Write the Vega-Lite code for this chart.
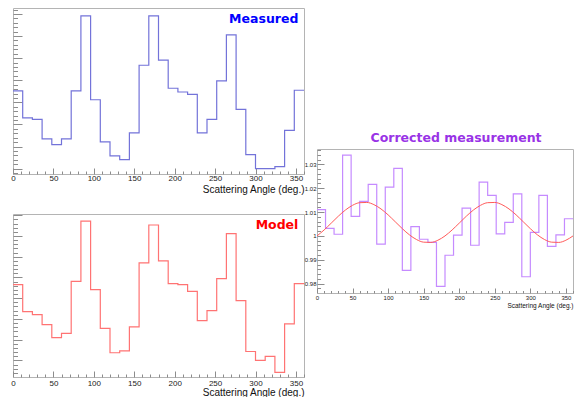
{
  "$schema": "https://vega.github.io/schema/vega-lite/v6.json",
  "padding": {"left": 10, "top": 7, "right": 0, "bottom": 0},
  "background": "white",
  "datasets": {
    "measured": [
      {"angle": 0, "counts": 352}, {"angle": 12, "counts": 230}, {"angle": 24, "counts": 223}, {"angle": 36, "counts": 135},
      {"angle": 48, "counts": 109}, {"angle": 60, "counts": 135}, {"angle": 72, "counts": 352}, {"angle": 84, "counts": 691},
      {"angle": 96, "counts": 312}, {"angle": 108, "counts": 121}, {"angle": 120, "counts": 58}, {"angle": 132, "counts": 41},
      {"angle": 144, "counts": 162}, {"angle": 156, "counts": 468}, {"angle": 168, "counts": 691}, {"angle": 180, "counts": 491},
      {"angle": 192, "counts": 364}, {"angle": 204, "counts": 347}, {"angle": 216, "counts": 336}, {"angle": 228, "counts": 162},
      {"angle": 240, "counts": 223}, {"angle": 252, "counts": 397}, {"angle": 264, "counts": 605}, {"angle": 276, "counts": 268},
      {"angle": 288, "counts": 64}, {"angle": 300, "counts": 0}, {"angle": 312, "counts": 0}, {"angle": 324, "counts": 9},
      {"angle": 336, "counts": 173}, {"angle": 348, "counts": 355}, {"angle": 360, "counts": 355}
    ],
    "model": [
      {"angle": 0, "counts": 465}, {"angle": 12, "counts": 335}, {"angle": 24, "counts": 321}, {"angle": 36, "counts": 273},
      {"angle": 48, "counts": 210}, {"angle": 60, "counts": 230}, {"angle": 72, "counts": 481}, {"angle": 84, "counts": 772},
      {"angle": 96, "counts": 441}, {"angle": 108, "counts": 254}, {"angle": 120, "counts": 137}, {"angle": 132, "counts": 146},
      {"angle": 144, "counts": 262}, {"angle": 156, "counts": 570}, {"angle": 168, "counts": 753}, {"angle": 180, "counts": 580},
      {"angle": 192, "counts": 470}, {"angle": 204, "counts": 465}, {"angle": 216, "counts": 433}, {"angle": 228, "counts": 292},
      {"angle": 240, "counts": 340}, {"angle": 252, "counts": 494}, {"angle": 264, "counts": 711}, {"angle": 276, "counts": 388},
      {"angle": 288, "counts": 143}, {"angle": 300, "counts": 100}, {"angle": 312, "counts": 119}, {"angle": 324, "counts": 42},
      {"angle": 336, "counts": 276}, {"angle": 348, "counts": 470}, {"angle": 360, "counts": 470}
    ],
    "corrected": [
      {"angle": 0, "ratio": 1.011}, {"angle": 12, "ratio": 1.0032}, {"angle": 24, "ratio": 1.0007}, {"angle": 36, "ratio": 1.0338},
      {"angle": 48, "ratio": 1.0082}, {"angle": 60, "ratio": 1.0145}, {"angle": 72, "ratio": 1.0216}, {"angle": 84, "ratio": 0.9966},
      {"angle": 96, "ratio": 1.0204}, {"angle": 108, "ratio": 1.0283}, {"angle": 120, "ratio": 0.9856}, {"angle": 132, "ratio": 1.0039},
      {"angle": 144, "ratio": 0.9986}, {"angle": 156, "ratio": 0.9973}, {"angle": 168, "ratio": 0.9789}, {"angle": 180, "ratio": 0.9919},
      {"angle": 192, "ratio": 1.0003}, {"angle": 204, "ratio": 1.0116}, {"angle": 216, "ratio": 0.9961}, {"angle": 228, "ratio": 1.0225},
      {"angle": 240, "ratio": 1.017}, {"angle": 252, "ratio": 1.0009}, {"angle": 264, "ratio": 1.0057}, {"angle": 276, "ratio": 1.0176},
      {"angle": 288, "ratio": 0.9829}, {"angle": 300, "ratio": 1.0015}, {"angle": 312, "ratio": 1.017}, {"angle": 324, "ratio": 0.9956},
      {"angle": 336, "ratio": 1.0004}, {"angle": 348, "ratio": 1.0072}, {"angle": 360, "ratio": 1.0072}
    ],
    "fit": [
      {"angle": 0, "ratio": 1.0}, {"angle": 10, "ratio": 1.0025}, {"angle": 20, "ratio": 1.00536}, {"angle": 30, "ratio": 1.00826},
      {"angle": 40, "ratio": 1.01085}, {"angle": 50, "ratio": 1.01282}, {"angle": 60, "ratio": 1.01392}, {"angle": 70, "ratio": 1.01402},
      {"angle": 80, "ratio": 1.01311}, {"angle": 90, "ratio": 1.0113}, {"angle": 100, "ratio": 1.00882}, {"angle": 110, "ratio": 1.00594},
      {"angle": 120, "ratio": 1.00304}, {"angle": 130, "ratio": 1.00045}, {"angle": 140, "ratio": 0.99848}, {"angle": 150, "ratio": 0.99739},
      {"angle": 160, "ratio": 0.99728}, {"angle": 170, "ratio": 0.99819}, {"angle": 180, "ratio": 1.0}, {"angle": 190, "ratio": 1.0025},
      {"angle": 200, "ratio": 1.00536}, {"angle": 210, "ratio": 1.00826}, {"angle": 220, "ratio": 1.01085}, {"angle": 230, "ratio": 1.01282},
      {"angle": 240, "ratio": 1.01392}, {"angle": 250, "ratio": 1.01402}, {"angle": 260, "ratio": 1.01311}, {"angle": 270, "ratio": 1.0113},
      {"angle": 280, "ratio": 1.00882}, {"angle": 290, "ratio": 1.00594}, {"angle": 300, "ratio": 1.00304}, {"angle": 310, "ratio": 1.00045},
      {"angle": 320, "ratio": 0.99848}, {"angle": 330, "ratio": 0.99739}, {"angle": 340, "ratio": 0.99728}, {"angle": 350, "ratio": 0.99819},
      {"angle": 360, "ratio": 1.0}
    ]
  },
  "spacing": -4,
  "hconcat": [
    {
      "bounds": "flush",
      "spacing": 40,
      "vconcat": [
        {
          "width": 291,
          "height": 166,
          "title": {"text": "Measured", "anchor": "end", "offset": -17, "dx": -8, "color": "#0000ff", "font": "DejaVu Sans", "fontSize": 12.5, "fontWeight": "bold"},
          "data": {"name": "measured"},
          "mark": {"type": "line", "interpolate": "step-after", "color": "#7373d9", "strokeWidth": 1.2},
          "encoding": {
            "x": {
              "field": "angle", "type": "quantitative",
              "scale": {"domain": [0, 360], "nice": false, "zero": false},
              "axis": {
                "values": [0,10,20,30,40,50,60,70,80,90,100,110,120,130,140,150,160,170,180,190,200,210,220,230,240,250,260,270,280,290,300,310,320,330,340,350,360],
                "labelExpr": "datum.value % 50 === 0 && datum.value < 360 ? datum.label : ''",
                "tickSize": {"condition": {"test": "datum.value % 50 === 0", "value": -6}, "value": -3},
                "labelPadding": 6.5, "labelFontSize": 8, "labelFlush": false, "labelOverlap": false,
                "title": "Scattering Angle (deg.)", "titleAnchor": "end", "titleFontSize": 10, "titlePadding": -1
              }
            },
            "y": {
              "field": "counts", "type": "quantitative",
              "scale": {"domain": [-24, 727], "nice": false, "zero": false},
              "axis": {
                "values": [-20,0,20,40,60,80,100,120,140,160,180,200,220,240,260,280,300,320,340,360,380,400,420,440,460,480,500,520,540,560,580,600,620,640,660,680,700,720],
                "labels": false, "title": null,
                "tickSize": {"condition": {"test": "datum.value % 100 === 0", "value": -9}, "value": -4.5}
              }
            }
          }
        },
        {
          "width": 291,
          "height": 163,
          "title": {"text": "Model", "anchor": "end", "offset": -17, "dx": -8, "color": "#ff0000", "font": "DejaVu Sans", "fontSize": 12.5, "fontWeight": "bold"},
          "data": {"name": "model"},
          "mark": {"type": "line", "interpolate": "step-after", "color": "#ff7373", "strokeWidth": 1.2},
          "encoding": {
            "x": {
              "field": "angle", "type": "quantitative",
              "scale": {"domain": [0, 360], "nice": false, "zero": false},
              "axis": {
                "values": [0,10,20,30,40,50,60,70,80,90,100,110,120,130,140,150,160,170,180,190,200,210,220,230,240,250,260,270,280,290,300,310,320,330,340,350,360],
                "labelExpr": "datum.value % 50 === 0 && datum.value < 360 ? datum.label : ''",
                "tickSize": {"condition": {"test": "datum.value % 50 === 0", "value": -6}, "value": -3},
                "labelPadding": 8.5, "labelFontSize": 8, "labelFlush": false, "labelOverlap": false,
                "title": "Scattering Angle (deg.)", "titleAnchor": "end", "titleFontSize": 10, "titlePadding": -3
              }
            },
            "y": {
              "field": "counts", "type": "quantitative",
              "scale": {"domain": [20, 806], "nice": false, "zero": false},
              "axis": {
                "values": [40,60,80,100,120,140,160,180,200,220,240,260,280,300,320,340,360,380,400,420,440,460,480,500,520,540,560,580,600,620,640,660,680,700,720,740,760,780,800],
                "labels": false, "title": null,
                "tickSize": {"condition": {"test": "datum.value % 100 === 0", "value": -9}, "value": -4.5}
              }
            }
          }
        }
      ]
    },
    {
      "bounds": "flush",
      "spacing": 10,
      "vconcat": [
        {
          "width": 256,
          "height": 131,
          "view": {"stroke": null},
          "data": {"values": []},
          "mark": {"type": "point"},
          "encoding": {}
        },
        {
          "width": 256,
          "height": 144,
          "title": {"text": "Corrected measurement", "anchor": "middle", "offset": 2, "dx": 11, "color": "#9933e6", "font": "DejaVu Sans", "fontSize": 12.5, "fontWeight": "bold"},
          "encoding": {
            "x": {
              "field": "angle", "type": "quantitative",
              "scale": {"domain": [0, 360], "nice": false, "zero": false},
              "axis": {
                "values": [0,10,20,30,40,50,60,70,80,90,100,110,120,130,140,150,160,170,180,190,200,210,220,230,240,250,260,270,280,290,300,310,320,330,340,350,360],
                "labelExpr": "datum.value % 50 === 0 && datum.value < 360 ? datum.label : ''",
                "tickSize": {"condition": {"test": "datum.value % 50 === 0", "value": -5}, "value": -2.5},
                "labelPadding": 6, "labelFontSize": 6, "labelFlush": false, "labelOverlap": false,
                "title": "Scattering Angle (deg.)", "titleAnchor": "end", "titleFontSize": 6.5, "titlePadding": 0, "titleX": 256
              }
            },
            "y": {
              "field": "ratio", "type": "quantitative",
              "scale": {"domain": [0.9761, 1.0364], "nice": false, "zero": false},
              "axis": {
                "values": [0.976,0.978,0.98,0.982,0.984,0.986,0.988,0.99,0.992,0.994,0.996,0.998,1,1.002,1.004,1.006,1.008,1.01,1.012,1.014,1.016,1.018,1.02,1.022,1.024,1.026,1.028,1.03,1.032,1.034,1.036],
                "format": "~g",
                "labelExpr": "abs(datum.value*100 - round(datum.value*100)) < 0.01 ? datum.label : ''",
                "tickSize": {"condition": {"test": "abs(datum.value*100 - round(datum.value*100)) < 0.01", "value": -7}, "value": -3.5},
                "labelPadding": 8, "labelFontSize": 6, "labelOverlap": false, "labelFlush": false,
                "title": null
              }
            }
          },
          "layer": [
            {
              "data": {"name": "corrected"},
              "mark": {"type": "line", "interpolate": "step-after", "color": "#c58bff", "strokeWidth": 1.2}
            },
            {
              "data": {"name": "fit"},
              "mark": {"type": "line", "interpolate": "monotone", "color": "#ff5a5a", "strokeWidth": 1}
            }
          ]
        }
      ]
    }
  ],
  "config": {
    "font": "Liberation Sans",
    "view": {"stroke": "#b4b4b4", "strokeWidth": 1},
    "axis": {
      "domain": false, "grid": false,
      "tickColor": "#8c8c8c", "tickWidth": 1,
      "labelColor": "#222222", "titleColor": "#111111",
      "labelFont": "Liberation Sans", "titleFont": "Liberation Sans", "titleFontWeight": "normal"
    }
  }
}
